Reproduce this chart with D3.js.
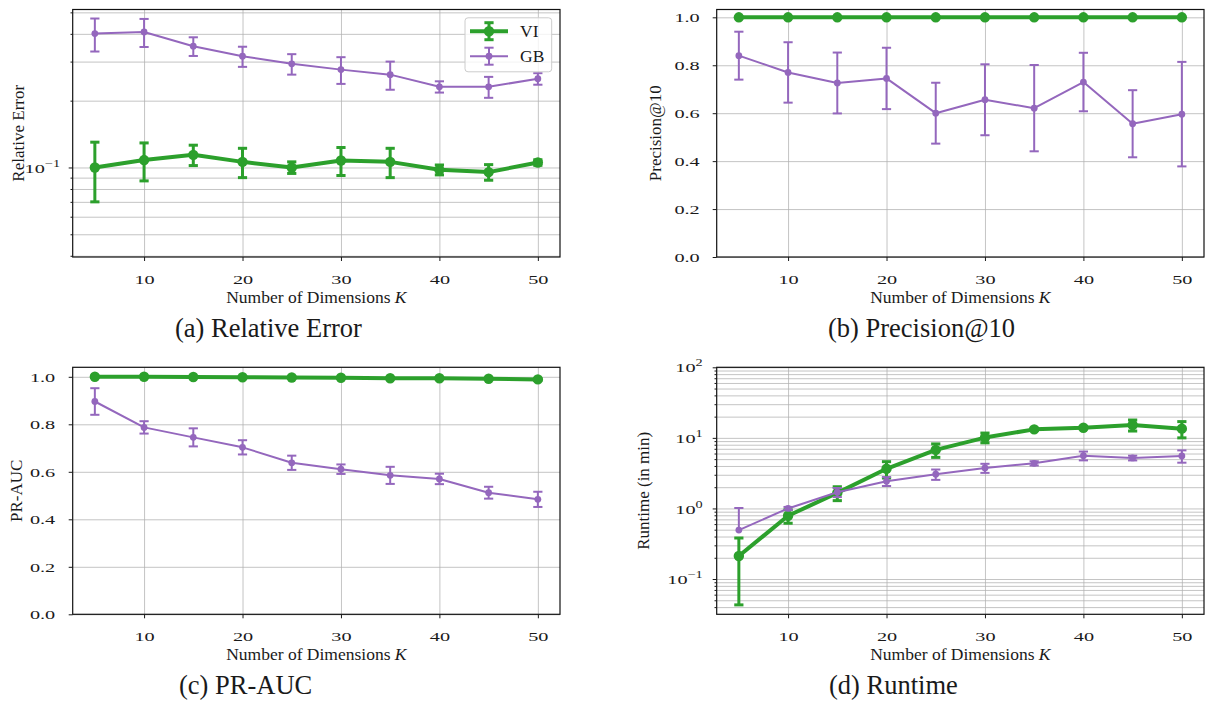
<!DOCTYPE html>
<html><head><meta charset="utf-8">
<script src="https://cdn.jsdelivr.net/npm/d3@7"></script>
<style>
body{margin:0;background:#fff}
svg{display:block}
</style></head><body>
<svg id="chart" width="1211" height="702"></svg>
<script>
// ---------------- data ----------------
const K = [5, 10, 15, 20, 25, 30, 35, 40, 45, 50];
const xTicks = [10, 20, 30, 40, 50];
const seriesNames = ["VI", "GB"];

const relErrVI    = [0.100, 0.108, 0.114, 0.106, 0.100, 0.1075, 0.106, 0.0976, 0.0953, 0.1053];
const relErrVIerr = [0.030, 0.021, 0.012, 0.016, 0.006, 0.0155, 0.016, 0.005, 0.0077, 0.003];
const relErrGB    = [0.401, 0.408, 0.352, 0.317, 0.293, 0.276, 0.262, 0.231, 0.231, 0.251];
const relErrGBerr = [0.068, 0.059, 0.034, 0.033, 0.031, 0.038, 0.038, 0.0135, 0.025, 0.015];

const precVI    = [1, 1, 1, 1, 1, 1, 1, 1, 1, 1];
const precVIerr = [0, 0, 0, 0, 0, 0, 0, 0, 0, 0];
const precGB    = [0.84, 0.77, 0.726, 0.745, 0.600, 0.656, 0.621, 0.730, 0.556, 0.596];
const precGBerr = [0.100, 0.126, 0.127, 0.128, 0.127, 0.148, 0.180, 0.122, 0.140, 0.218];

const aucVI    = [1.0, 1.0, 0.999, 0.998, 0.997, 0.996, 0.994, 0.994, 0.992, 0.989];
const aucVIerr = [0.001, 0.001, 0.001, 0.001, 0.001, 0.001, 0.001, 0.001, 0.001, 0.002];
const aucGB    = [0.896, 0.787, 0.745, 0.703, 0.638, 0.611, 0.585, 0.570, 0.512, 0.484];
const aucGBerr = [0.056, 0.026, 0.038, 0.030, 0.030, 0.020, 0.036, 0.022, 0.025, 0.032];

const runVI    = [0.212, 0.787, 1.66, 3.65, 6.75, 10.1, 13.2, 13.9, 15.2, 13.5];
const runVIerr = [0.169, 0.17, 0.37, 0.95, 1.46, 1.6, 0.5, 0.5, 2.7, 3.5];
const runGB    = [0.494, 1.0, 1.70, 2.43, 3.05, 3.74, 4.36, 5.6, 5.19, 5.55];
const runGBerr = [0.52, 0.05, 0.25, 0.35, 0.51, 0.55, 0.3, 0.8, 0.4, 1.1];

const relMajor = [0.1];
const relMinor = [0.04, 0.05, 0.06, 0.07, 0.08, 0.09, 0.2, 0.3, 0.4, 0.5];
const linTicks = [0.0, 0.2, 0.4, 0.6, 0.8, 1.0];
const runMajor = [0.1, 1, 10, 100];
const runMinor = [0.04,0.05,0.06,0.07,0.08,0.09,0.2,0.3,0.4,0.5,0.6,0.7,0.8,0.9,
                  2,3,4,5,6,7,8,9,20,30,40,50,60,70,80,90];

// ---------------- style ----------------
const svg = d3.select("#chart");
svg.append("rect").attr("width", 1211).attr("height", 702).attr("fill", "#fff");
const SERIF = "'Liberation Serif','Times New Roman',serif";
const GREEN = "#2ca02c", PURPLE = "#9467bd", INK = "#1a1a1a";
const TSX = 1.5; // horizontal stretch of tick labels
const styles = {
  VI: {color: GREEN, lw: 4, r: 5.2, elw: 3, cap: 4.6, capw: 3},
  GB: {color: PURPLE, lw: 2, r: 3.4, elw: 2, cap: 4.6, capw: 2}
};

function supLabel(sel, v) {
  const e = Math.round(Math.log10(v));
  const t = d3.select(sel);
  t.text(null);
  t.append("tspan").text("10");
  t.append("tspan").attr("dy", -6).attr("font-size", 9.5).text(e < 0 ? "\u2212" + (-e) : String(e));
}

function drawSeries(g, x, y, vals, errs, st, isLog) {
  const pts = K.map((k, i) => ({k, v: vals[i], e: errs[i]}));
  const line = d3.line().x(d => x(d.k)).y(d => y(d.v));
  g.append("path").attr("d", line(pts)).attr("fill", "none")
    .attr("stroke", st.color).attr("stroke-width", st.lw).attr("stroke-linejoin", "round");
  pts.forEach(d => {
    if (!d.e) return;
    const hi = d.v + d.e, lo = d.v - d.e;
    const loOk = !(isLog && lo <= 0);
    const yH = y(hi), yL = loOk ? y(lo) : y(d.v);
    const cx = x(d.k);
    g.append("line").attr("x1", cx).attr("x2", cx).attr("y1", yH).attr("y2", yL)
      .attr("stroke", st.color).attr("stroke-width", st.elw);
    const caps = loOk ? [yH, yL] : [yH];
    caps.forEach(cy => g.append("line").attr("x1", cx - st.cap).attr("x2", cx + st.cap)
      .attr("y1", cy).attr("y2", cy).attr("stroke", st.color).attr("stroke-width", st.capw));
  });
  g.selectAll(null).data(pts).enter().append("circle")
    .attr("cx", d => x(d.k)).attr("cy", d => y(d.v)).attr("r", st.r).attr("fill", st.color);
}

function panel(cfg) {
  const g = svg.append("g");
  const w = cfg.right - cfg.left, h = cfg.bottom - cfg.top;
  const x = d3.scaleLinear().domain([2.75, 52.25]).range([cfg.left, cfg.right]);
  const y = (cfg.log ? d3.scaleLog() : d3.scaleLinear()).domain(cfg.yDomain).range([cfg.bottom, cfg.top]);

  // grid
  const gy = g.append("g").attr("transform", `translate(${cfg.left},0)`)
    .call(d3.axisLeft(y).tickValues(cfg.yGrid).tickSize(-w).tickFormat(""));
  const gx = g.append("g").attr("transform", `translate(0,${cfg.bottom})`)
    .call(d3.axisBottom(x).tickValues(xTicks).tickSize(-h).tickFormat(""));
  [gy, gx].forEach(s => {
    s.select(".domain").remove();
    s.selectAll("line").attr("stroke", "#b0b0b0").attr("stroke-opacity", 0.75).attr("stroke-width", 1);
  });

  // data
  drawSeries(g, x, y, cfg.vi, cfg.viErr, styles.VI, cfg.log);
  drawSeries(g, x, y, cfg.gb, cfg.gbErr, styles.GB, cfg.log);

  // spines
  g.append("rect").attr("x", cfg.left).attr("y", cfg.top).attr("width", w).attr("height", h)
    .attr("fill", "none").attr("stroke", "#111").attr("stroke-width", 1.2);

  // x axis ticks + labels
  const ax = g.append("g").attr("transform", `translate(0,${cfg.bottom})`)
    .call(d3.axisBottom(x).tickValues(xTicks).tickSize(4).tickFormat(d3.format("d")));
  ax.select(".domain").remove();
  ax.selectAll("line").attr("stroke", INK);
  ax.selectAll("text").attr("font-family", SERIF).attr("font-size", 13.5).attr("fill", INK)
    .attr("y", 27).attr("dy", 0).attr("transform", `scale(${TSX},1)`);

  // y axis major ticks + labels
  const ay = g.append("g").attr("transform", `translate(${cfg.left},0)`)
    .call(d3.axisLeft(y).tickValues(cfg.yMajor).tickSize(4)
      .tickFormat(cfg.log ? (d => String(d)) : d3.format(".1f")));
  ay.select(".domain").remove();
  ay.selectAll("line").attr("stroke", INK);
  ay.selectAll("text").attr("font-family", SERIF).attr("font-size", 13.5).attr("fill", INK)
    .attr("x", -cfg.yGap / TSX).attr("dy", "0.34em").attr("transform", `scale(${TSX},1)`);
  if (cfg.log) {
    ay.selectAll("text").each(function(d) { supLabel(this, d); });
    const am = g.append("g").attr("transform", `translate(${cfg.left},0)`)
      .call(d3.axisLeft(y).tickValues(cfg.yMinor).tickSize(2.2).tickFormat(""));
    am.select(".domain").remove();
    am.selectAll("line").attr("stroke", INK);
  }

  // axis labels
  const xl = g.append("text").attr("x", (cfg.left + cfg.right) / 2).attr("y", cfg.bottom + 45.5)
    .attr("text-anchor", "middle").attr("font-family", SERIF).attr("font-size", 17.5).attr("fill", INK);
  xl.append("tspan").text("Number of Dimensions ");
  xl.append("tspan").attr("font-style", "italic").text("K");

  g.append("text").attr("transform", `translate(${cfg.yLabelX},${(cfg.top + cfg.bottom) / 2}) rotate(-90)`)
    .attr("text-anchor", "middle").attr("font-family", SERIF).attr("font-size", 17).attr("fill", INK)
    .text(cfg.yLabel);

  // caption
  g.append("text").attr("x", cfg.capX).attr("y", cfg.bottom + 80)
    .attr("font-family", SERIF).attr("font-size", 26.5).attr("fill", INK).text(cfg.caption);

  // legend
  if (cfg.legend) {
    const lx = cfg.right - 95, ly = cfg.top + 8.3;
    const lg = g.append("g");
    lg.append("rect").attr("x", lx).attr("y", ly).attr("width", 86.7).attr("height", 54)
      .attr("rx", 3).attr("fill", "#fff").attr("fill-opacity", 0.8)
      .attr("stroke", "#cccccc").attr("stroke-width", 1);
    seriesNames.forEach((name, i) => {
      const st = styles[name];
      const cy = ly + 13.4 + i * 25;
      const x0 = lx + 5, x1 = lx + 43, cx = (x0 + x1) / 2;
      lg.append("line").attr("x1", x0).attr("x2", x1).attr("y1", cy).attr("y2", cy)
        .attr("stroke", st.color).attr("stroke-width", st.lw);
      lg.append("line").attr("x1", cx).attr("x2", cx).attr("y1", cy - 8.5).attr("y2", cy + 8.5)
        .attr("stroke", st.color).attr("stroke-width", st.elw);
      [cy - 8.5, cy + 8.5].forEach(yy => lg.append("line").attr("x1", cx - st.cap).attr("x2", cx + st.cap)
        .attr("y1", yy).attr("y2", yy).attr("stroke", st.color).attr("stroke-width", st.capw));
      lg.append("circle").attr("cx", cx).attr("cy", cy).attr("r", st.r).attr("fill", st.color);
      lg.append("text").attr("x", lx + 55).attr("y", cy + 6).attr("font-family", SERIF)
        .attr("font-size", 17.5).attr("fill", INK).text(name);
    });
  }
}

panel({left: 72.7, right: 560, top: 9.5, bottom: 257, log: true, yDomain: [0.0395, 0.515],
  yMajor: relMajor, yMinor: relMinor, yGrid: relMinor.concat(relMajor), yGap: 12.7,
  vi: relErrVI, viErr: relErrVIerr, gb: relErrGB, gbErr: relErrGBerr,
  yLabel: "Relative Error", yLabelX: 24, caption: "(a) Relative Error", capX: 175, legend: true});

panel({left: 716.7, right: 1204, top: 9.5, bottom: 257, log: false, yDomain: [0, 1.0326],
  yMajor: linTicks, yGrid: linTicks, yGap: 17,
  vi: precVI, viErr: precVIerr, gb: precGB, gbErr: precGBerr,
  yLabel: "Precision@10", yLabelX: 660.5, caption: "(b) Precision@10", capX: 828, legend: false});

panel({left: 72.7, right: 560, top: 367.3, bottom: 614.3, log: false, yDomain: [0, 1.04],
  yMajor: linTicks, yGrid: linTicks, yGap: 17.5,
  vi: aucVI, viErr: aucVIerr, gb: aucGB, gbErr: aucGBerr,
  yLabel: "PR-AUC", yLabelX: 21.7, caption: "(c) PR-AUC", capX: 179, legend: false});

panel({left: 716.7, right: 1204, top: 367.3, bottom: 614.3, log: true, yDomain: [Math.pow(10, -1.5), 100],
  yMajor: runMajor, yMinor: runMinor, yGrid: runMinor.concat(runMajor), yGap: 14,
  vi: runVI, viErr: runVIerr, gb: runGB, gbErr: runGBerr,
  yLabel: "Runtime (in min)", yLabelX: 648.5, caption: "(d) Runtime", capX: 829, legend: false});
</script>
</body></html>
